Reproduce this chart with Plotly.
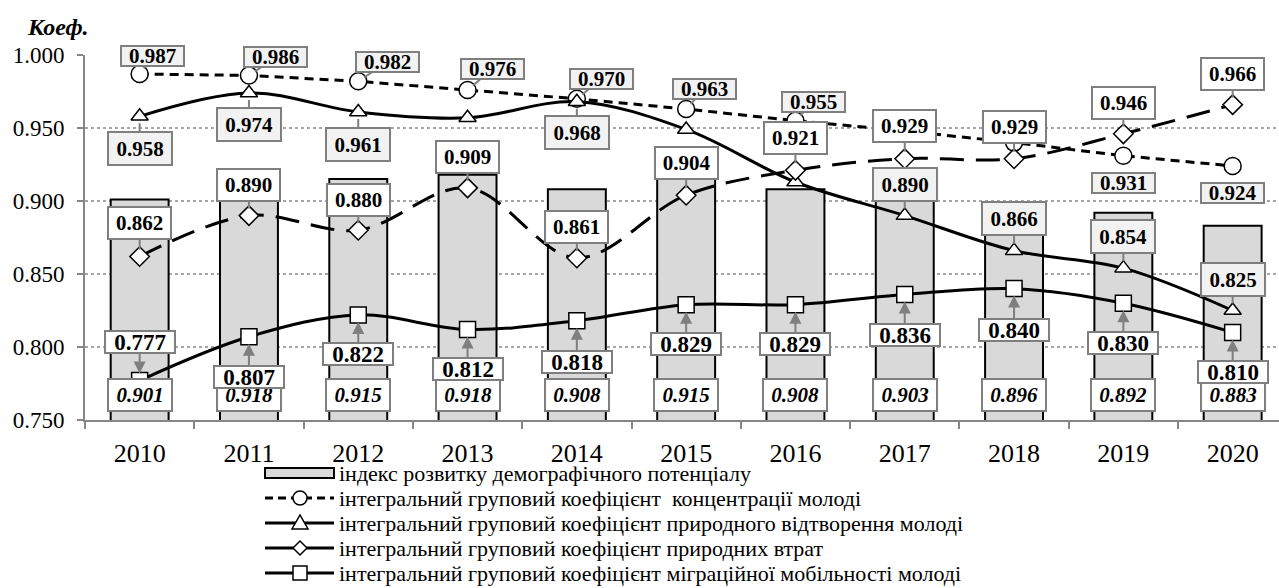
import plotly.graph_objects as go

# --- data -----------------------------------------------------------------
years = ["2010", "2011", "2012", "2013", "2014", "2015",
         "2016", "2017", "2018", "2019", "2020"]

demo_index = [0.901, 0.918, 0.915, 0.918, 0.908, 0.915,
              0.908, 0.903, 0.896, 0.892, 0.883]
youth_concentration = [0.987, 0.986, 0.982, 0.976, 0.970, 0.963,
                       0.955, 0.948, 0.940, 0.931, 0.924]
natural_reproduction = [0.958, 0.974, 0.961, 0.957, 0.968, 0.949,
                        0.913, 0.890, 0.866, 0.854, 0.825]
natural_losses = [0.862, 0.890, 0.880, 0.909, 0.861, 0.904,
                  0.921, 0.929, 0.929, 0.946, 0.966]
migration_mobility = [0.777, 0.807, 0.822, 0.812, 0.818, 0.829,
                      0.829, 0.836, 0.840, 0.830, 0.810]

series_names = [
    "індекс розвитку демографічного потенціалу",
    "інтегральний груповий коефіцієнт  концентрації молоді",
    "інтегральний груповий коефіцієнт природного відтворення молоді",
    "інтегральний груповий коефіцієнт природних втрат",
    "інтегральний груповий коефіцієнт міграційної мобільності молоді",
]

# --- callout placement (pixel offsets of boxes; None = no label) -----------
conc_offsets = [(13, -18), (27, -18), (29, -19), (25, -21), (25, -20),
                (18, -20), (18, -19), None, None, "below", "below"]
repr_offsets = [(0, 32), (0, 32), (0, 33), None, (0, 31), None, None,
                (0, -31), (0, -32), (0, -32), (0, -31)]
loss_offsets = [(0, -33), (0, -31), (0, -30), (0, -31), (0, -31), (0, -32),
                (0, -32), (0, -33), (0, -32), (0, -31), (0, -31)]
migr_offsets = [(0, -39), (0, 40), (0, 39), (0, 40), (0, 41), (0, 39),
                (0, 39), (0, 41), (0, 41), (0, 40), (0, 40)]

FONT = '"Liberation Serif", "Times New Roman", serif'
GRAY_BOX = "#f2f2f2"
BORDER = "#7f7f7f"

# plot-area geometry in pixels (used for the hand-built legend)
W, H = 1279, 588
L, R, T, B = 85, 0, 55, 168
PW, PH = W - L - R, H - T - B


def px(xp):
    return (xp - L) / PW


def py(yp):
    return (H - B - yp) / PH


fig = go.Figure()

fig.add_trace(go.Bar(
    x=years, y=demo_index, name=series_names[0], width=0.53,
    marker=dict(color="#d9d9d9", line=dict(color="black", width=2)),
))
fig.add_trace(go.Scatter(
    x=years, y=youth_concentration, name=series_names[1], mode="lines+markers",
    line=dict(color="black", width=3, dash="9px,6px"),
    marker=dict(symbol="circle", size=17, color="white",
                line=dict(color="black", width=1.5)),
))
fig.add_trace(go.Scatter(
    x=years, y=natural_reproduction, name=series_names[2], mode="lines+markers",
    line=dict(color="black", width=3, shape="spline", smoothing=1.0),
    marker=dict(symbol="triangle-up", size=15, color="white",
                line=dict(color="black", width=1.5)),
))
fig.add_trace(go.Scatter(
    x=years, y=natural_losses, name=series_names[3], mode="lines+markers",
    line=dict(color="black", width=3, dash="24px,12px", shape="spline", smoothing=1.0),
    marker=dict(symbol="diamond", size=15, color="white",
                line=dict(color="black", width=1.5)),
))
fig.add_trace(go.Scatter(
    x=years, y=migration_mobility, name=series_names[4], mode="lines+markers",
    line=dict(color="black", width=3, shape="spline", smoothing=1.0),
    marker=dict(symbol="square", size=16, color="white",
                line=dict(color="black", width=1.5)),
))

annotations = []

# bar value labels at the foot of each column
for i, v in enumerate(demo_index):
    annotations.append(dict(
        x=i, y=0.75, xref="x", yref="y", yanchor="bottom", yshift=8,
        text=f"<b><i>{v:.3f}</i></b>", showarrow=False,
        font=dict(family=FONT, size=21, color="black"),
        bgcolor="white", bordercolor=BORDER, borderwidth=2,
        width=60, height=28,
    ))


def callouts(values, offsets, fill, size, w, h, head=0):
    for i, (v, off) in enumerate(zip(values, offsets)):
        if off is None:
            continue
        base = dict(
            x=i, y=v, xref="x", yref="y", text=f"<b>{v:.3f}</b>",
            font=dict(family=FONT, size=size, color="black"),
            bgcolor=fill, bordercolor=BORDER, borderwidth=2,
            width=w, height=h,
        )
        if off == "below":
            base.update(showarrow=False, yshift=-27)
        else:
            base.update(showarrow=True, ax=off[0], ay=off[1],
                        arrowcolor=BORDER, arrowwidth=2, arrowhead=head,
                        arrowsize=1.2, standoff=7)
        annotations.append(base)


callouts(migration_mobility, migr_offsets, "white", 23, 66, 18, head=2)
callouts(natural_losses, loss_offsets, "white", 21, 59, 28)
callouts(natural_reproduction, repr_offsets, GRAY_BOX, 21, 60, 29)
callouts(youth_concentration, conc_offsets, GRAY_BOX, 21, 59, 16)

# axis caption
annotations.append(dict(
    x=px(25), y=py(27), xref="paper", yref="paper", xanchor="left",
    yanchor="middle", text="<b><i>Коеф.</i></b>", showarrow=False,
    font=dict(family=FONT, size=24, color="black"),
))

# --- legend below the axis -------------------------------------------------
shapes = []
row_y = [473, 498, 523, 548, 573]
sym_x0, sym_x1, sym_c, text_x = 265, 334, 300, 337

for name, yp in zip(series_names, row_y):
    annotations.append(dict(
        x=px(text_x), y=py(yp), xref="paper", yref="paper",
        xanchor="left", yanchor="middle", text=name, showarrow=False,
        font=dict(family=FONT, size=22, color="black"),
    ))

# column swatch
shapes.append(dict(type="rect", xref="paper", yref="paper",
                   x0=px(sym_x0), x1=px(sym_x1), y0=py(row_y[0] - 5), y1=py(row_y[0] + 5),
                   fillcolor="#d9d9d9", line=dict(color="black", width=2)))
# line samples
for k, yp in enumerate(row_y[1:]):
    shapes.append(dict(type="line", xref="paper", yref="paper",
                       x0=px(sym_x0), x1=px(sym_x1), y0=py(yp), y1=py(yp),
                       line=dict(color="black", width=3,
                                 dash="8px,5px" if k == 0 else "solid")))

mk = dict(xref="paper", yref="paper", fillcolor="white",
          line=dict(color="black", width=1.5))
r = 7
shapes.append(dict(type="circle", x0=px(sym_c - r), x1=px(sym_c + r),
                   y0=py(row_y[1] - r), y1=py(row_y[1] + r), **mk))
yt = row_y[2]
shapes.append(dict(type="path",
                   path=f"M{px(sym_c - 8)},{py(yt + 6)} L{px(sym_c + 8)},{py(yt + 6)} "
                        f"L{px(sym_c)},{py(yt - 8)} Z", **mk))
yd = row_y[3]
shapes.append(dict(type="path",
                   path=f"M{px(sym_c - 7)},{py(yd)} L{px(sym_c)},{py(yd - 7)} "
                        f"L{px(sym_c + 7)},{py(yd)} L{px(sym_c)},{py(yd + 7)} Z", **mk))
ys = row_y[4]
shapes.append(dict(type="rect", x0=px(sym_c - 7), x1=px(sym_c + 7),
                   y0=py(ys - 7), y1=py(ys + 7), **mk))

fig.update_layout(
    width=W, height=H,
    margin=dict(l=L, r=R, t=T, b=B),
    paper_bgcolor="white", plot_bgcolor="white",
    font=dict(family=FONT, size=20, color="black"),
    showlegend=False,
    annotations=annotations,
    shapes=shapes,
    bargap=0.47,
)

fig.update_xaxes(
    type="category", range=[-0.5, 10.424], tickson="boundaries",
    ticks="outside", ticklen=7, tickwidth=2, tickcolor="#868686",
    showline=True, linecolor="#868686", linewidth=2, showgrid=False,
    ticklabelstandoff=9,
    tickfont=dict(family=FONT, size=26, color="black"),
)
fig.update_yaxes(
    range=[0.75, 1.0], dtick=0.05, tickformat=".3f",
    ticks="outside", ticklen=6, tickwidth=2, tickcolor="#868686",
    showline=True, linecolor="#868686", linewidth=2,
    showgrid=True, gridcolor="#a6a6a6", gridwidth=1.5, griddash="dot",
    zeroline=False, ticklabelstandoff=8,
    tickfont=dict(family=FONT, size=23, color="black"),
)

fig.write_html("out.html")
